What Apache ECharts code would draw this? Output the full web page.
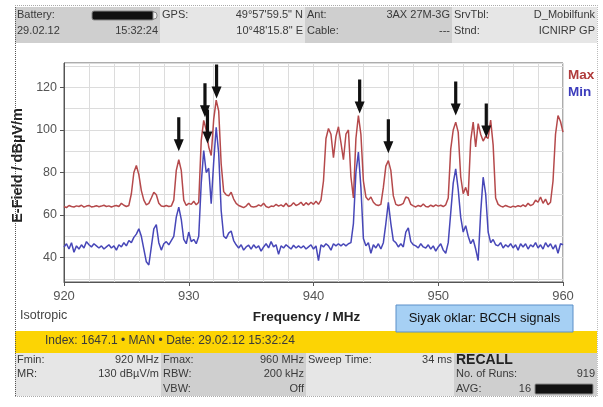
<!DOCTYPE html>
<html>
<head>
<meta charset="utf-8">
<script src="https://cdn.jsdelivr.net/npm/echarts@6/dist/echarts.min.js"></script>
<style>
html, body { margin: 0; padding: 0; background: #fff; }
#chart { width: 603px; height: 407px; }
</style>
</head>
<body>
<div id="chart"></div>
<script>
// sweep: 920..960 MHz, one sample every 0.2 MHz
const sweepStart = 920
const sweepStep = 0.2

const maxTrace = [
  64, 63.5, 64.5, 64, 63.8, 64.3, 64, 64.6, 63.7, 64.2,
  64.5, 63.8, 64, 64.4, 63.9, 64.2, 64.6, 64, 64.3, 63.8,
  64.2, 64.5, 64, 65.5, 64.6, 64, 64.5, 70, 80, 83.3,
  79, 71.5, 67, 64.8, 65.5, 68, 70.7, 69.5, 65.5, 64.2,
  64, 64.5, 64, 64.2, 67, 81, 86, 81, 67, 64.5,
  65.5, 65, 66.5, 64.8, 66, 95, 104.5, 100, 92, 88,
  105, 114, 109, 84, 71, 69.5, 69, 70.7, 67.5, 65.5,
  64.5, 64, 63.5, 64.2, 65.5, 64, 63.8, 64, 64.8, 64.2,
  65.5, 64, 63.5, 64.2, 64, 65, 64.2, 64.8, 64, 65.5,
  64, 64.5, 65.8, 64.5, 65, 66, 64.5, 65.8, 64.8, 66,
  65, 66.5, 65, 67, 76, 96, 100.7, 98, 87, 97,
  101.5, 94, 86, 98, 100, 78, 68, 96, 106.8, 98,
  76, 68.5, 67, 68.5, 66, 64.8, 64.5, 65, 73, 83,
  85.6, 81, 69, 65, 64.5, 64.8, 65.5, 68.5, 68, 65,
  64.3, 63.8, 64.5, 64, 65.2, 64, 63.8, 64.6, 64, 64.8,
  64.2, 64.6, 64, 64.8, 68, 91, 100, 103.7, 99, 78,
  70, 73, 69, 95, 103.7, 92, 103, 98, 94.8, 97,
  96, 104.7, 93, 68, 65, 64.2, 63.8, 64.5, 64, 63.6,
  64.2, 63.8, 64.4, 64, 64.8, 64, 65.5, 64.4, 65, 67,
  66, 68.5, 65.5, 67.5, 64.8, 66, 76, 98, 106.8, 104,
  99
]

const minTrace = [
  45, 46.5, 44, 47, 42.5, 45.5, 44, 46, 44.5, 47.5,
  46, 45, 46.5, 45.5, 44.5, 45.5, 44, 45, 46, 44.5,
  45.5, 43.5, 46, 45, 47, 45.5, 48, 47, 49.5, 51,
  53.5, 50, 44, 38, 36.5, 45, 53.5, 55.5, 47, 43.5,
  46.5, 47.5, 46, 48, 50, 59, 63.7, 58, 48.5, 46.5,
  52, 47.5, 48.5, 46.5, 50, 75, 90.3, 80, 82, 65.3,
  85, 101.3, 89, 62, 50, 49, 51.5, 52.5, 48, 46,
  44.5, 46, 43.5, 45, 45.8, 44, 46, 44.5, 45.5, 43,
  45, 46.5, 44.5, 47.5, 45, 46, 41.5, 45.5, 44.5, 46,
  45, 44, 45.8, 44.5, 45.5, 44.5, 45.5, 44, 45, 46,
  44, 45.5, 38.5, 46, 45, 46.5, 45.5, 43.5, 46.5, 45.5,
  46.5, 45.5, 46.5, 45.5, 46.5, 47, 56, 80, 89.6, 73,
  49, 45.5, 47, 42, 46, 44.5, 46.5, 44, 47, 56,
  66, 56, 48, 47, 45, 46.5, 45, 52, 54, 47.5,
  46, 45.5, 44.5, 46.5, 45, 44.5, 46, 44, 45.5, 43,
  45, 46.5, 43.5, 42, 47, 61, 75, 81.7, 72, 59,
  52, 55, 50, 46.5, 48.5, 44, 38.6, 61, 77.8, 70,
  52, 47, 48.5, 46, 45.5, 47, 44.5, 46, 45, 46.5,
  44.5, 46, 43.5, 46.5, 45, 46.5, 44, 46, 45, 47,
  44.5, 46, 44, 47, 45, 46.5, 44, 46, 42, 46.5,
  46
]

// black arrows marking the BCCH carriers (arrow tip position)
const arrowFreq = [929.2, 931.3, 931.5, 932.23, 943.7, 946.0, 951.4, 953.85]
const arrowTip = [90, 106, 93.6, 114.8, 107.8, 89, 106.8, 96.5]

const xTickLabels = [920, 930, 940, 950, 960]
const yTickLabels = [40, 60, 80, 100, 120]

const headerCells = [
  [['Battery:', ''], ['29.02.12', '15:32:24']],
  [['GPS:', '49°57\'59.5" N'], ['', '10°48\'15.8" E']],
  [['Ant:', '3AX 27M-3G'], ['Cable:', '---']],
  [['SrvTbl:', 'D_Mobilfunk'], ['Stnd:', 'ICNIRP GP']],
]
const footerCells = [
  [['Fmin:', '920 MHz'], ['MR:', '130 dBµV/m'], ['', '']],
  [['Fmax:', '960 MHz'], ['RBW:', '200 kHz'], ['VBW:', 'Off']],
  [['Sweep Time:', '34 ms'], ['', ''], ['', '']],
  [['RECALL', ''], ['No. of Runs:', '919'], ['AVG:', '16']],
]
const statusLine = 'Index: 1647.1 • MAN • Date: 29.02.12 15:32:24'
const noteText = 'Siyak oklar: BCCH signals'

const FONT = '"Liberation Sans", Arial, sans-serif'
const TXT = '#3a3a3a'

const chart = echarts.init(document.getElementById('chart'), null, { renderer: 'canvas' })

const maxData = maxTrace.map((v, i) => [+(sweepStart + i * sweepStep).toFixed(1), v])
const minData = minTrace.map((v, i) => [+(sweepStart + i * sweepStep).toFixed(1), v])
const arrowData = arrowFreq.map((f, i) => [f, arrowTip[i]])

// ---- instrument frame (header / footer boxes) ----
const g = []
function rect(x, y, w, h, fill, z) {
  g.push({ type: 'rect', shape: { x, y, width: w, height: h }, style: { fill }, z: z || 0, silent: true })
}
function text(str, x, y, align, extra) {
  g.push({
    type: 'text', x, y, z: 5, silent: true,
    style: Object.assign({ text: str, fill: TXT, font: '11px ' + FONT, align, verticalAlign: 'middle' }, extra || {}),
  })
}
function line(x1, y1, x2, y2, stroke) {
  g.push({ type: 'line', shape: { x1, y1, x2, y2 }, style: { stroke, lineWidth: 1, lineDash: [1, 1] }, z: 6, silent: true })
}

const headX = [15, 160, 305, 452, 597]
const headFill = ['#cfcfcf', '#e6e6e6', '#cfcfcf', '#e6e6e6']
const headRowY = [15, 31]
headerCells.forEach((cell, c) => {
  rect(headX[c], 7, headX[c + 1] - headX[c], 36, headFill[c])
  cell.forEach((row, r) => {
    if (row[0]) text(row[0], headX[c] + 2, headRowY[r], 'left')
    if (row[1]) text(row[1], headX[c + 1] - 2, headRowY[r], 'right')
  })
})
// battery symbol
g.push({ type: 'rect', shape: { x: 92, y: 11, width: 62, height: 9, r: 2 }, style: { fill: '#111', stroke: '#8a8a8a', lineWidth: 1 }, z: 5, silent: true })
g.push({ type: 'rect', shape: { x: 153, y: 12, width: 4, height: 7, r: [0, 3, 3, 0] }, style: { fill: '#f0f0f0', stroke: '#8a8a8a', lineWidth: 1 }, z: 5, silent: true })

// status bar
rect(15, 331, 582, 22, '#fcd404')
text(statusLine, 45, 341, 'left', { font: '12px ' + FONT })

const footX = [15, 161, 306, 454, 597]
const footFill = ['#e6e6e6', '#cfcfcf', '#e6e6e6', '#cfcfcf']
const footRowY = [360, 374, 388.5]
footerCells.forEach((cell, c) => {
  rect(footX[c], 353, footX[c + 1] - footX[c], 43, footFill[c])
  cell.forEach((row, r) => {
    if (row[0] === 'RECALL') {
      text(row[0], footX[c] + 2, footRowY[r], 'left', { font: 'bold 14px ' + FONT, fill: '#222' })
      return
    }
    if (row[0]) text(row[0], footX[c] + 2, footRowY[r], 'left')
    if (row[1]) {
      const rx = row[0] === 'AVG:' ? 531 : footX[c + 1] - 2
      text(row[1], rx, footRowY[r], 'right')
    }
  })
})
g.push({ type: 'rect', shape: { x: 535, y: 384, width: 58, height: 10, r: 1 }, style: { fill: '#111', stroke: '#8a8a8a', lineWidth: 1 }, z: 5, silent: true })

// note box
g.push({ type: 'rect', shape: { x: 396, y: 305, width: 177, height: 27 }, style: { fill: '#a6d0f4', stroke: '#5b8fc8', lineWidth: 1 }, z: 7, silent: true })
g.push({ type: 'text', x: 484.5, y: 318.5, z: 8, silent: true, style: { text: noteText, fill: '#111', font: '13px ' + FONT, align: 'center', verticalAlign: 'middle' } })

text('Isotropic', 20, 316, 'left', { font: '12.5px ' + FONT, fill: '#444' })

// outer dotted border
line(15.5, 5, 15.5, 397, '#555')
line(15, 5.5, 597, 5.5, '#aaa')
line(597.5, 5, 597.5, 397, '#bbb')
line(15, 396.5, 597, 396.5, '#aaa')

chart.setOption({
  animation: false,
  backgroundColor: '#fff',
  textStyle: { fontFamily: FONT },
  graphic: g,
  grid: { left: 64, right: 40, top: 63, bottom: 125, show: true, borderColor: '#5a5a5a', borderWidth: 1, backgroundColor: '#fff' },
  legend: {
    orient: 'vertical', left: 558, top: 63, icon: 'none', itemWidth: 0, itemHeight: 0, itemGap: 3,
    selectedMode: false,
    textStyle: { fontSize: 13.5, fontWeight: 'bold', fontFamily: FONT },
    data: [
      { name: 'Max', textStyle: { color: '#b03c3c' } },
      { name: 'Min', textStyle: { color: '#3c3cbc' } },
    ],
  },
  xAxis: {
    type: 'value', min: 920, max: 960, interval: 10,
    axisLine: { show: true, lineStyle: { color: '#555' } },
    axisTick: { show: true, length: 4, lineStyle: { color: '#555' } },
    axisLabel: { color: '#555', fontSize: 13, margin: 8, fontFamily: FONT,
      formatter: (v) => (xTickLabels.includes(v) ? String(v) : '') },
    splitLine: { show: true, lineStyle: { color: '#dcdcdc' } },
    minorTick: { show: false, splitNumber: 5 },
    minorSplitLine: { show: true, lineStyle: { color: '#dcdcdc' } },
    name: 'Frequency / MHz', nameLocation: 'middle', nameGap: 28,
    nameTextStyle: { color: '#222', fontSize: 13.5, fontWeight: 'bold', fontFamily: FONT, padding: [0, 14, 0, 0] },
  },
  yAxis: {
    type: 'value', min: 28.5, max: 131.5, splitNumber: 5,
    axisLine: { show: true, lineStyle: { color: '#555' } },
    axisTick: { show: true, length: 4, lineStyle: { color: '#555' } },
    axisLabel: { color: '#555', fontSize: 12.5, margin: 7, fontFamily: FONT, showMinLabel: false, showMaxLabel: false,
      formatter: (v) => (yTickLabels.includes(v) ? String(v) : '') },
    splitLine: { show: true, lineStyle: { color: '#dcdcdc' } },
    minorTick: { show: false, splitNumber: 2 },
    minorSplitLine: { show: true, lineStyle: { color: '#dcdcdc' } },
    name: 'E-Field / dBµV/m', nameLocation: 'middle', nameGap: 30,
    nameTextStyle: { color: '#222', fontSize: 14.5, fontWeight: 'bold', fontFamily: FONT, padding: [0, 0, 0, 14] },
  },
  series: [
    {
      name: 'Max', type: 'line', data: maxData, showSymbol: false, silent: true,
      lineStyle: { color: '#b5494b', width: 1.5 }, itemStyle: { color: '#b03c3c' },
    },
    {
      name: 'Min', type: 'line', data: minData, showSymbol: false, silent: true,
      lineStyle: { color: '#4747b8', width: 1.5 }, itemStyle: { color: '#3c3cbc' },
    },
    {
      name: 'arrows', type: 'scatter', data: arrowData, silent: true, z: 10,
      symbol: 'path://M3.4,0 L6.6,0 L6.6,22 L10,22 L5,34 L0,22 L3.4,22 Z',
      symbolSize: [10, 34], symbolOffset: [0, -17],
      itemStyle: { color: '#111', opacity: 1 },
    },
  ],
})
</script>
</body>
</html>
